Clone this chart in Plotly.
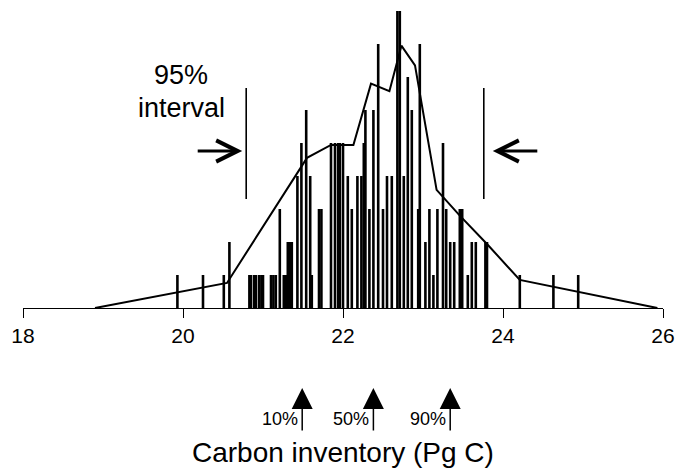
import plotly.graph_objects as go

# ---- data ----
stick_x = [19.93, 20.25, 20.51, 20.58, 20.83, 20.85, 20.89, 20.91, 20.95, 20.98,
           21.00, 21.10, 21.13, 21.16, 21.21, 21.26, 21.29, 21.31, 21.34, 21.36,
           21.43, 21.48, 21.54, 21.59, 21.61, 21.70, 21.73, 21.85, 21.90, 21.94,
           21.96, 22.00, 22.06, 22.11, 22.18, 22.23, 22.26, 22.28, 22.33, 22.38,
           22.44, 22.50, 22.55, 22.61, 22.68, 22.71, 22.76, 22.81, 22.86, 22.94,
           22.96, 23.03, 23.08, 23.13, 23.18, 23.25, 23.29, 23.34, 23.39, 23.46,
           23.49, 23.56, 23.61, 23.66, 23.78, 23.80, 24.21, 24.63, 24.94]
stick_h = [1, 1, 1, 2, 1, 1, 1, 1, 1, 1,
           1, 1, 1, 1, 3, 1, 1, 2, 2, 2,
           4, 5, 6, 4, 1, 3, 3, 5, 5, 5,
           5, 5, 4, 3, 4, 4, 5, 6, 3, 6,
           8, 3, 4, 4, 9, 9, 4, 7, 6, 3,
           8, 2, 3, 1, 3, 5, 3, 2, 2, 3,
           3, 1, 2, 2, 2, 2, 1, 1, 1]

envelope_x = [18.9, 20.55, 21.55, 21.85, 22.13, 22.35, 22.58, 22.73, 22.90,
              23.17, 23.46, 23.80, 24.21, 25.93]
envelope_y = [0.0, 0.76, 4.55, 4.94, 4.94, 6.80, 6.57, 7.95, 7.35,
              3.58, 2.80, 1.94, 0.85, 0.0]

interval_bounds = [20.79, 23.76]          # 95% interval
pct_labels = ["10%", "50%", "90%"]
pct_values = [21.49, 22.38, 23.34]

x_ticks = [18, 20, 22, 24, 26]
x_title = "Carbon inventory (Pg C)"

FONT = "Liberation Sans, Arial, Helvetica, sans-serif"
UNIT_PX = 33.0
BASE_PX = 308.0
H = 470

def y_of(px):
    return (BASE_PX - px) / UNIT_PX

def yp_of(px):
    # paper coordinate (plot area spans pixel 0..BASE_PX)
    return (BASE_PX - px) / BASE_PX

# ---- build figure ----
sx, sy = [], []
for x, h in zip(stick_x, stick_h):
    sx += [x, x, None]
    sy += [0, h, None]

fig = go.Figure()
fig.add_trace(go.Scatter(x=sx, y=sy, mode="lines",
                         line=dict(color="black", width=2.6),
                         hoverinfo="skip", showlegend=False))
fig.add_trace(go.Scatter(x=envelope_x, y=envelope_y, mode="lines",
                         line=dict(color="black", width=2),
                         hoverinfo="skip", showlegend=False))

# 95% interval vertical markers
for xb in interval_bounds:
    fig.add_shape(type="line", x0=xb, x1=xb, y0=y_of(88), y1=y_of(199),
                  line=dict(color="black", width=1.6))

# open arrows pointing to interval markers
arrow_y = y_of(151)
fig.add_annotation(x=interval_bounds[0], y=arrow_y, xshift=-4, ax=-46, ay=0,
                   text="", showarrow=True, arrowhead=5, arrowwidth=2.8,
                   arrowsize=1.5, arrowcolor="black")
fig.add_annotation(x=interval_bounds[1], y=arrow_y, xshift=9, ax=46, ay=0,
                   text="", showarrow=True, arrowhead=5, arrowwidth=2.8,
                   arrowsize=1.5, arrowcolor="black")

fig.add_annotation(x=19.98, y=y_of(75), text="95%", showarrow=False,
                   yanchor="middle",
                   font=dict(family=FONT, size=27, color="black"))
fig.add_annotation(x=19.98, y=y_of(108), text="interval", showarrow=False,
                   yanchor="middle",
                   font=dict(family=FONT, size=27, color="black"))

# percentile arrows and labels (below the axis -> paper y coordinates)
for lab, v in zip(pct_labels, pct_values):
    fig.add_annotation(x=v, y=yp_of(388), xref="x", yref="paper",
                       ax=0, ay=44, text="", showarrow=True,
                       arrowhead=2, arrowwidth=1.5, arrowsize=2.8,
                       arrowcolor="black")
    fig.add_annotation(x=v, y=yp_of(419), xref="x", yref="paper",
                       xanchor="right", yanchor="middle", xshift=-2,
                       text=lab, showarrow=False,
                       font=dict(family=FONT, size=18, color="black"))

fig.add_annotation(x=22, y=yp_of(452), xref="x", yref="paper",
                   yanchor="middle",
                   text=x_title, showarrow=False,
                   font=dict(family=FONT, size=28, color="black"))

fig.update_layout(
    width=689, height=H,
    margin=dict(l=23, r=26, t=0, b=H - int(BASE_PX)),
    paper_bgcolor="white", plot_bgcolor="white",
    xaxis=dict(range=[18, 26], tickvals=x_ticks,
               ticktext=[str(t) for t in x_ticks],
               showgrid=False, zeroline=False, showline=True,
               linecolor="black", linewidth=1,
               ticks="outside", ticklen=9, tickwidth=1, tickcolor="black",
               ticklabelstandoff=0,
               tickfont=dict(family=FONT, size=21, color="black")),
    yaxis=dict(range=[0, BASE_PX / UNIT_PX], visible=False,
               showgrid=False, zeroline=False),
)

fig.write_html("out.html")
